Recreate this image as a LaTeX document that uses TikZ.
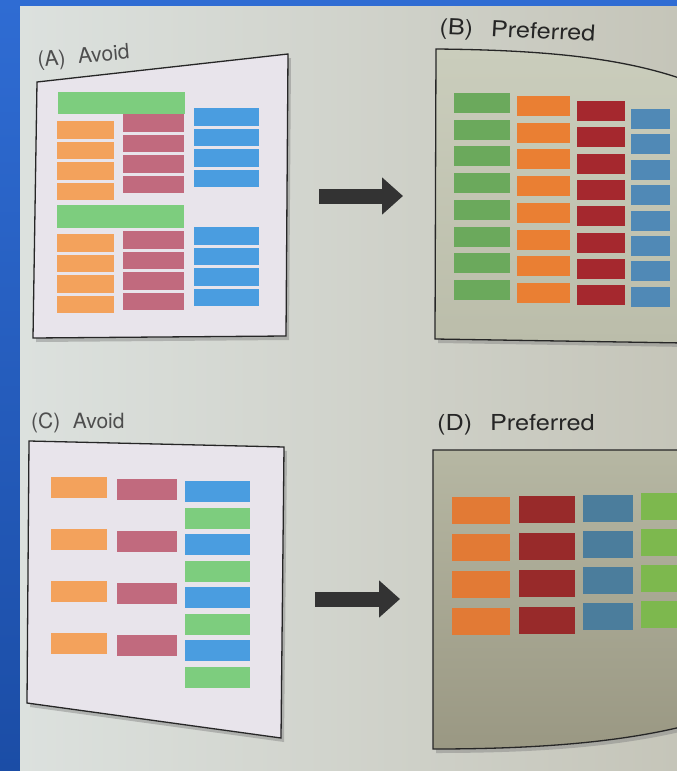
\documentclass[tikz,border=0pt]{standalone}
\usepackage{fontspec}
\setmainfont{TeX Gyre Heros}
\usetikzlibrary{positioning, math, calc, arrows.meta, shadows}

\definecolor{bgBlueTop}{HTML}{2F6CD3}
\definecolor{bgBlueBot}{HTML}{1B4DA6}
\definecolor{pageLeft}{HTML}{DCE1DE}
\definecolor{pageRight}{HTML}{C5C5B9}
\definecolor{avoidFill}{HTML}{E8E4EB}
\definecolor{prefTop}{HTML}{CACDBC}
\definecolor{prefBot}{HTML}{BBBDAA}
\definecolor{prefDTop}{HTML}{B6B7A3}
\definecolor{prefDBot}{HTML}{9A9883}
\definecolor{softGreen}{HTML}{7DCD7E}
\definecolor{softOrange}{HTML}{F3A25C}
\definecolor{softRed}{HTML}{C16A7E}
\definecolor{softBlue}{HTML}{4A9DE0}
\definecolor{deepGreen}{HTML}{6BA95C}
\definecolor{deepOrange}{HTML}{EA7F33}
\definecolor{deepRed}{HTML}{A5282E}
\definecolor{deepBlue}{HTML}{5089B6}
\definecolor{darkOrange}{HTML}{E27A35}
\definecolor{darkRed}{HTML}{982A2A}
\definecolor{darkBlue}{HTML}{4B7D9C}
\definecolor{darkGreen}{HTML}{7DB84E}
\definecolor{inkGray}{HTML}{262626}
\definecolor{labelGray}{HTML}{4E4E4E}
\definecolor{arrowGray}{HTML}{333333}

\begin{document}
\begin{tikzpicture}[x=1pt, y=-1pt]
	\tikzmath{
		\hA    = 17.5; %bar height in A
		\gapA  = 3;    %gap between bars in A
		\hB    = 20;   %bar height in B
		\hC    = 21;   %bar height in C
		\gapC  = 31;   %gap between orange/red bars in C
		\gapCc = 5.5;  %gap in the blue/green column of C
		\hD    = 27;   %bar height in D
		\gapD  = 10;   %gap between bars in D
	}
	\tikzstyle{Bar}   = [rectangle, inner sep=0pt, outer sep=0pt]
	\tikzstyle{AGreen}  = [Bar, fill=softGreen, minimum width=127pt, minimum height=22pt]
	\tikzstyle{AOrange} = [Bar, fill=softOrange, minimum width=57pt, minimum height=\hA pt]
	\tikzstyle{ARed}    = [Bar, fill=softRed, minimum width=61pt, minimum height=\hA pt]
	\tikzstyle{ABlue}   = [Bar, fill=softBlue, minimum width=65pt, minimum height=\hA pt]
	\tikzstyle{BGreen}  = [Bar, fill=deepGreen, minimum width=56pt, minimum height=\hB pt]
	\tikzstyle{BOrange} = [Bar, fill=deepOrange, minimum width=53pt, minimum height=\hB pt]
	\tikzstyle{BRed}    = [Bar, fill=deepRed, minimum width=48pt, minimum height=\hB pt]
	\tikzstyle{BBlue}   = [Bar, fill=deepBlue, minimum width=39pt, minimum height=\hB pt]
	\tikzstyle{COrange} = [Bar, fill=softOrange, minimum width=56pt, minimum height=\hC pt]
	\tikzstyle{CRed}    = [Bar, fill=softRed, minimum width=60pt, minimum height=\hC pt]
	\tikzstyle{CBlue}   = [Bar, fill=softBlue, minimum width=65pt, minimum height=\hC pt]
	\tikzstyle{CGreen}  = [Bar, fill=softGreen, minimum width=65pt, minimum height=\hC pt]
	\tikzstyle{DOrange} = [Bar, fill=darkOrange, minimum width=58pt, minimum height=\hD pt]
	\tikzstyle{DRed}    = [Bar, fill=darkRed, minimum width=56pt, minimum height=\hD pt]
	\tikzstyle{DBlue}   = [Bar, fill=darkBlue, minimum width=50pt, minimum height=\hD pt]
	\tikzstyle{DGreen}  = [Bar, fill=darkGreen, minimum width=46pt, minimum height=\hD pt]
	\tikzstyle{Frame} = [draw=inkGray, line width=1.3pt]
	\tikzstyle{Shadow} = [drop shadow={shadow xshift=3pt, shadow yshift=-4pt, opacity=0.45}]
	\tikzstyle{AvoidLabel} = [inner sep=0pt, anchor=base west, text=labelGray, font=\fontsize{21}{24}\selectfont]
	\tikzstyle{PrefLabel}  = [inner sep=0pt, anchor=base west, text=inkGray, font=\fontsize{22}{24}\selectfont, xscale=1.15]
	\tikzstyle{BigArrow} = [draw=arrowGray, line width=15pt, -{Triangle[width=36pt, length=21pt]}]

	\useasboundingbox (0,0) rectangle (677,771);
	\clip (0,0) rectangle (677,771);
	\fill[top color=bgBlueTop, bottom color=bgBlueBot] (0,0) rectangle (677,771);
	\fill[left color=pageLeft, right color=pageRight] (20,6) rectangle (677,771);

	%%%%%%%%%%%%%%%%%%%%%%%%%%===---PANEL A---===%%%%%%%%%%%%%%%%%%%%%%%%%%
	\node (labelA) [AvoidLabel, rotate=5] at (38,67) {(A)\hspace{0.6em}Avoid};
	\coordinate (aTL) at (37,82);
	\coordinate (aTR) at (288,54);
	\coordinate (aBR) at (286,336);
	\coordinate (aBL) at (33,338);
	\draw[Frame, fill=avoidFill, Shadow] (aTL) -- (aTR) -- (aBR) -- (aBL) -- cycle;

	\node (aG1) [AGreen, anchor=north west] at (58,92) {};
		\node (aO1) [AOrange, anchor=north west] at (57,121) {};
		\node (aO2) [AOrange, below = \gapA pt of aO1] {};
		\node (aO3) [AOrange, below = \gapA pt of aO2] {};
		\node (aO4) [AOrange, below = \gapA pt of aO3] {};
		\node (aR1) [ARed, anchor=north west] at (123,114) {};
		\node (aR2) [ARed, below = \gapA pt of aR1] {};
		\node (aR3) [ARed, below = \gapA pt of aR2] {};
		\node (aR4) [ARed, below = \gapA pt of aR3] {};
		\node (aB1) [ABlue, anchor=north west] at (194,108) {};
		\node (aB2) [ABlue, below = \gapA pt of aB1] {};
		\node (aB3) [ABlue, below = \gapA pt of aB2] {};
		\node (aB4) [ABlue, below = \gapA pt of aB3] {};

	\node (aG2) [AGreen, anchor=north west, minimum height=23pt] at (57,205) {};
		\node (aO5) [AOrange, anchor=north west] at (57,234) {};
		\node (aO6) [AOrange, below = \gapA pt of aO5] {};
		\node (aO7) [AOrange, below = \gapA pt of aO6] {};
		\node (aO8) [AOrange, below = \gapA pt of aO7] {};
		\node (aR5) [ARed, anchor=north west] at (123,231) {};
		\node (aR6) [ARed, below = \gapA pt of aR5] {};
		\node (aR7) [ARed, below = \gapA pt of aR6] {};
		\node (aR8) [ARed, below = \gapA pt of aR7] {};
		\node (aB5) [ABlue, anchor=north west] at (194,227) {};
		\node (aB6) [ABlue, below = \gapA pt of aB5] {};
		\node (aB7) [ABlue, below = \gapA pt of aB6] {};
		\node (aB8) [ABlue, below = \gapA pt of aB7] {};

	\coordinate (arrowAStart) at (319,196);
	\coordinate (arrowAEnd)   at (403,196);
	\draw[BigArrow] (arrowAStart) -- (arrowAEnd);

	%%%%%%%%%%%%%%%%%%%%%%%%%%===---PANEL B---===%%%%%%%%%%%%%%%%%%%%%%%%%%
	\node (labelB) [PrefLabel, rotate=-3] at (439,34) {(B)\hspace{0.7em}Preferred};
	\coordinate (bTL) at (436,49);
	\coordinate (bTR) at (685,80);
	\coordinate (bBR) at (685,343);
	\coordinate (bBL) at (435,339);
	\draw[Frame, top color=prefTop, bottom color=prefBot, Shadow] (bBR) -- (bBL) -- (bTL) .. controls (540,50) and (620,57) .. (bTR);

		\node (bG1) [BGreen, anchor=north west] at (454,93) {};
		\node (bG2) [BGreen, below = 6.7pt of bG1] {};
		\node (bG3) [BGreen, below = 6.7pt of bG2] {};
		\node (bG4) [BGreen, below = 6.7pt of bG3] {};
		\node (bG5) [BGreen, below = 6.7pt of bG4] {};
		\node (bG6) [BGreen, below = 6.7pt of bG5] {};
		\node (bG7) [BGreen, below = 6.7pt of bG6] {};
		\node (bG8) [BGreen, below = 6.7pt of bG7] {};

		\node (bO1) [BOrange, anchor=north west] at (517,96) {};
		\node (bO2) [BOrange, below = 6.7pt of bO1] {};
		\node (bO3) [BOrange, below = 6.7pt of bO2] {};
		\node (bO4) [BOrange, below = 6.7pt of bO3] {};
		\node (bO5) [BOrange, below = 6.7pt of bO4] {};
		\node (bO6) [BOrange, below = 6.7pt of bO5] {};
		\node (bO7) [BOrange, below = 6.7pt of bO6] {};
		\node (bO8) [BOrange, below = 6.7pt of bO7] {};

		\node (bR1) [BRed, anchor=north west] at (577,101) {};
		\node (bR2) [BRed, below = 6.3pt of bR1] {};
		\node (bR3) [BRed, below = 6.3pt of bR2] {};
		\node (bR4) [BRed, below = 6.3pt of bR3] {};
		\node (bR5) [BRed, below = 6.3pt of bR4] {};
		\node (bR6) [BRed, below = 6.3pt of bR5] {};
		\node (bR7) [BRed, below = 6.3pt of bR6] {};
		\node (bR8) [BRed, below = 6.3pt of bR7] {};

		\node (bB1) [BBlue, anchor=north west] at (631,109) {};
		\node (bB2) [BBlue, below = 5.4pt of bB1] {};
		\node (bB3) [BBlue, below = 5.4pt of bB2] {};
		\node (bB4) [BBlue, below = 5.4pt of bB3] {};
		\node (bB5) [BBlue, below = 5.4pt of bB4] {};
		\node (bB6) [BBlue, below = 5.4pt of bB5] {};
		\node (bB7) [BBlue, below = 5.4pt of bB6] {};
		\node (bB8) [BBlue, below = 5.4pt of bB7] {};

	%%%%%%%%%%%%%%%%%%%%%%%%%%===---PANEL C---===%%%%%%%%%%%%%%%%%%%%%%%%%%
	\node (labelC) [AvoidLabel] at (31,428) {(C)\hspace{0.6em}Avoid};
	\coordinate (cTL) at (29,441);
	\coordinate (cTR) at (284,447);
	\coordinate (cBR) at (281,738);
	\coordinate (cBL) at (27,703);
	\draw[Frame, fill=avoidFill, Shadow] (cTL) -- (cTR) -- (cBR) -- (cBL) -- cycle;

		\node (cO1) [COrange, anchor=north west] at (51,477) {};
		\node (cO2) [COrange, below = \gapC pt of cO1] {};
		\node (cO3) [COrange, below = \gapC pt of cO2] {};
		\node (cO4) [COrange, below = \gapC pt of cO3] {};
		\node (cR1) [CRed, anchor=north west] at (117,479) {};
		\node (cR2) [CRed, below = \gapC pt of cR1] {};
		\node (cR3) [CRed, below = \gapC pt of cR2] {};
		\node (cR4) [CRed, below = \gapC pt of cR3] {};
		\node (cB1) [CBlue, anchor=north west] at (185,481) {};
		\node (cG1) [CGreen, below = \gapCc pt of cB1] {};
		\node (cB2) [CBlue, below = \gapCc pt of cG1] {};
		\node (cG2) [CGreen, below = \gapCc pt of cB2] {};
		\node (cB3) [CBlue, below = \gapCc pt of cG2] {};
		\node (cG3) [CGreen, below = \gapCc pt of cB3] {};
		\node (cB4) [CBlue, below = \gapCc pt of cG3] {};
		\node (cG4) [CGreen, below = \gapCc pt of cB4] {};

	\coordinate (arrowCStart) at (315,599);
	\coordinate (arrowCEnd)   at (400,599);
	\draw[BigArrow] (arrowCStart) -- (arrowCEnd);

	%%%%%%%%%%%%%%%%%%%%%%%%%%===---PANEL D---===%%%%%%%%%%%%%%%%%%%%%%%%%%
	\node (labelD) [PrefLabel] at (437,430) {(D)\hspace{0.7em}Preferred};
	\coordinate (dTL) at (433,450);
	\coordinate (dTR) at (685,450);
	\coordinate (dBL) at (433,749);
	\coordinate (dBR) at (685,726);
	\draw[Frame, top color=prefDTop, bottom color=prefDBot, Shadow] (dTR) -- (dTL) -- (dBL) .. controls (540,749) and (620,742) .. (dBR);

		\node (dO1) [DOrange, anchor=north west] at (452,497) {};
		\node (dO2) [DOrange, below = \gapD pt of dO1] {};
		\node (dO3) [DOrange, below = \gapD pt of dO2] {};
		\node (dO4) [DOrange, below = \gapD pt of dO3] {};
		\node (dR1) [DRed, anchor=north west] at (519,496) {};
		\node (dR2) [DRed, below = \gapD pt of dR1] {};
		\node (dR3) [DRed, below = \gapD pt of dR2] {};
		\node (dR4) [DRed, below = \gapD pt of dR3] {};
		\node (dB1) [DBlue, anchor=north west] at (583,495) {};
		\node (dB2) [DBlue, below = 9pt of dB1] {};
		\node (dB3) [DBlue, below = 9pt of dB2] {};
		\node (dB4) [DBlue, below = 9pt of dB3] {};
		\node (dG1) [DGreen, anchor=north west] at (641,493) {};
		\node (dG2) [DGreen, below = 9pt of dG1] {};
		\node (dG3) [DGreen, below = 9pt of dG2] {};
		\node (dG4) [DGreen, below = 9pt of dG3] {};
\end{tikzpicture}
\end{document}
